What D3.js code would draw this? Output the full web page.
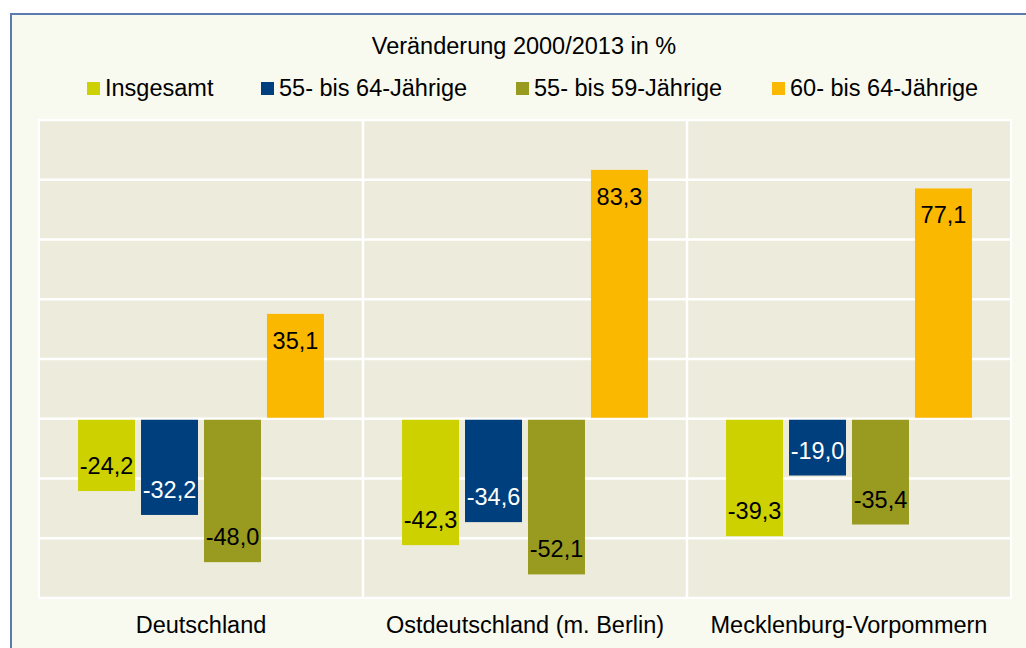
<!DOCTYPE html>
<meta charset="utf-8">
<style>
body { margin: 0; background: #fff; }
text { font-family: "Liberation Sans", Arial, sans-serif; fill: #000; }
</style>
<svg width="1026" height="648"></svg>
<script src="https://d3js.org/d3.v7.min.js"></script>
<script>
// data
var regions = ["Deutschland", "Ostdeutschland (m. Berlin)", "Mecklenburg-Vorpommern"];
var seriesNames = ["Insgesamt", "55- bis 64-Jährige", "55- bis 59-Jährige", "60- bis 64-Jährige"];
var insgesamt = [-24.2, -42.3, -39.3];
var alt55bis64 = [-32.2, -34.6, -19.0];
var alt55bis59 = [-48.0, -52.1, -35.4];
var alt60bis64 = [35.1, 83.3, 77.1];
var colors = ["#cdd100", "#003f7d", "#999a20", "#fbb800"];
var labelColors = ["#000", "#fff", "#000", "#000"];
var yTicks = [-60, -40, -20, 0, 20, 40, 60, 80, 100];

var values = [insgesamt, alt55bis64, alt55bis59, alt60bis64];

var svg = d3.select("svg");

// outer frame
svg.append("rect")
    .attr("x", 11).attr("y", 14)
    .attr("width", 1030).attr("height", 650)
    .attr("fill", "#f8f9ef")
    .attr("stroke", "#5b7bb0")
    .attr("stroke-width", 2);

var plotLeft = 39, plotRight = 1011, plotTop = 120, plotBottom = 598;

var x0 = d3.scaleBand().domain(regions).range([plotLeft, plotRight]);
var x1 = d3.scaleBand().domain(d3.range(4)).range([0, x0.bandwidth()])
    .paddingInner(0.095).paddingOuter(0.62);
var y = d3.scaleLinear().domain([-60, 100]).range([plotBottom, plotTop]);

// plot background
svg.append("rect")
    .attr("x", plotLeft).attr("y", plotTop)
    .attr("width", plotRight - plotLeft).attr("height", plotBottom - plotTop)
    .attr("fill", "#edebdc")
    .attr("stroke", "#fff").attr("stroke-width", 2);

// gridlines
svg.append("g").selectAll("line")
    .data(yTicks)
    .join("line")
      .attr("x1", plotLeft).attr("x2", plotRight)
      .attr("y1", function(d) { return y(d); })
      .attr("y2", function(d) { return y(d); })
      .attr("stroke", "#fff").attr("stroke-width", 2.5);

svg.append("g").selectAll("line")
    .data(regions.slice(1))
    .join("line")
      .attr("x1", function(d) { return x0(d); })
      .attr("x2", function(d) { return x0(d); })
      .attr("y1", plotTop).attr("y2", plotBottom)
      .attr("stroke", "#fff").attr("stroke-width", 2.5);

// bars
var cells = [];
regions.forEach(function(r, i) {
  values.forEach(function(s, j) {
    cells.push({ region: r, series: j, value: s[i] });
  });
});

var g = svg.append("g");
g.selectAll("rect")
    .data(cells)
    .join("rect")
      .attr("x", function(d) { return x0(d.region) + x1(d.series); })
      .attr("width", x1.bandwidth())
      .attr("y", function(d) { return d.value > 0 ? y(d.value) : y(0) + 1; })
      .attr("height", function(d) { return Math.abs(y(d.value) - y(0)) - 1; })
      .attr("fill", function(d) { return colors[d.series]; });

g.selectAll("text")
    .data(cells)
    .join("text")
      .attr("x", function(d) { return x0(d.region) + x1(d.series) + x1.bandwidth() / 2; })
      .attr("y", function(d) { return d.value > 0 ? y(d.value) + 35 : y(d.value) - 17; })
      .attr("text-anchor", "middle")
      .style("font-size", "23.5px")
      .style("fill", function(d) { return labelColors[d.series]; })
      .text(function(d) { return d3.format(".1f")(d.value).replace(".", ",").replace("−", "-"); });

// category labels
svg.append("g").selectAll("text")
    .data(regions)
    .join("text")
      .attr("x", function(d) { return x0(d) + x0.bandwidth() / 2; })
      .attr("y", 633)
      .attr("text-anchor", "middle")
      .style("font-size", "23.5px")
      .text(function(d) { return d; });

// title
svg.append("text")
    .attr("x", 524).attr("y", 54)
    .attr("text-anchor", "middle")
    .style("font-size", "23.5px")
    .text("Veränderung 2000/2013 in %");

// legend
var legendX = [87, 261, 516, 772];
var legend = svg.append("g").selectAll("g")
    .data(seriesNames)
    .join("g")
      .attr("transform", function(d, i) { return "translate(" + legendX[i] + ",0)"; });
legend.append("rect")
    .attr("y", 82).attr("width", 13).attr("height", 13)
    .attr("fill", function(d, i) { return colors[i]; });
legend.append("text")
    .attr("x", 18).attr("y", 96)
    .style("font-size", "23.5px")
    .text(function(d) { return d; });
</script>
